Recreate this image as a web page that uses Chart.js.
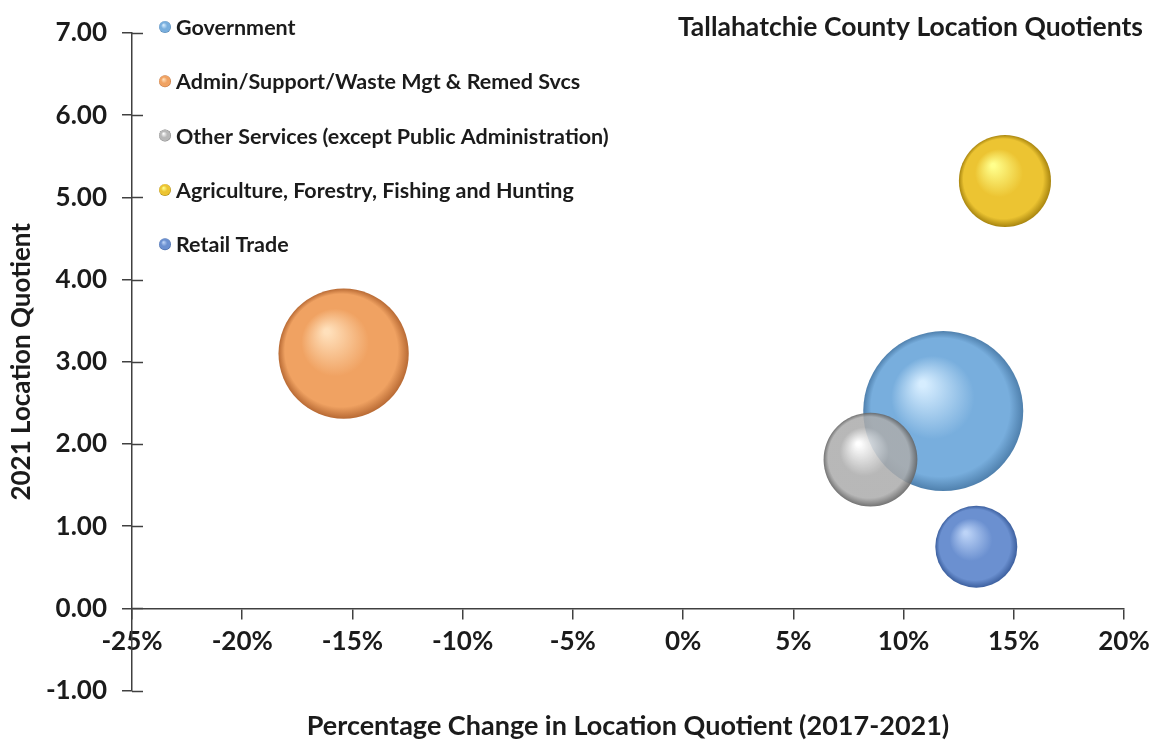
<!DOCTYPE html>
<html>
<head>
<meta charset="utf-8">
<title>Tallahatchie County Location Quotients</title>
<script src="https://cdn.jsdelivr.net/npm/chart.js@4.4.1/dist/chart.umd.min.js"></script>
<style>
    html, body { margin: 0; padding: 0; background: #ffffff; }
    #wrap { width: 1158px; height: 746px; }
</style>
</head>
<body>
<div id="wrap"><canvas id="lqChart" width="1158" height="746"></canvas></div>
<script>
// industries shown as bubbles
var industries = [
    'Government',
    'Admin/Support/Waste Mgt & Remed Svcs',
    'Other Services (except Public Administration)',
    'Agriculture, Forestry, Fishing and Hunting',
    'Retail Trade'
];
// % change in LQ 2017-2021
var lqChange = [11.8, -15.4, 8.5, 14.6, 13.3];
// 2021 location quotient
var lq2021 = [2.40, 3.10, 1.81, 5.20, 0.75];
// bubble size (relative employment)
var bubbleSize = [1600, 1060, 550, 530, 420];

var xTicks = [-25, -20, -15, -10, -5, 0, 5, 10, 15, 20];
var yTicks = [-1, 0, 1, 2, 3, 4, 5, 6, 7];

// highlight, body, edge
var sphereColors = [
    ['#d6edff', '#78aedd', '#4f80ad'],
    ['#ffe0bb', '#f0a262', '#b86a34'],
    ['rgba(255,255,255,0.9)', 'rgba(172,172,172,0.86)', 'rgba(100,100,100,0.9)'],
    ['#ffff8c', '#ecc432', '#a8850f'],
    ['#bcd3f7', '#6b90d0', '#3c5f9e']
];

var fontFamily = 'Lato, "Open Sans", sans-serif';
var textColor = '#1b1b1b';
var axisColor = '#404040';

function sphere(ctx2d, x, y, r, cols) {
    var g = ctx2d.createRadialGradient(x - r * 0.26, y - r * 0.34, r * 0.04, x, y, r);
    g.addColorStop(0, cols[0]);
    g.addColorStop(0.5, cols[1]);
    g.addColorStop(0.86, cols[1]);
    g.addColorStop(1, cols[2]);
    return g;
}

function bubbleFill(i) {
    return function (context) {
        var chart = context.chart;
        if (context.type !== 'data' || !chart.chartArea) {
            return sphereColors[i][1];
        }
        var raw = context.raw;
        var x = chart.scales.x.getPixelForValue(raw.x);
        var y = chart.scales.y.getPixelForValue(raw.y);
        return sphere(chart.ctx, x, y, raw.r, sphereColors[i]);
    };
}

var datasets = [];
for (var i = 0; i < industries.length; i++) {
    datasets.push({
        label: industries[i],
        data: [{ x: lqChange[i], y: lq2021[i], r: Math.sqrt(bubbleSize[i]) * 2 }],
        backgroundColor: bubbleFill(i),
        borderWidth: 0,
        hoverBorderWidth: 0,
        order: i == 2 ? 0 : 1
    });
}

// legend drawn inside the plot, top left
var insideLegend = {
    id: 'insideLegend',
    afterDraw: function (chart) {
        var c = chart.ctx;
        c.save();
        c.font = 'bold 21.5px ' + fontFamily;
        c.textBaseline = 'middle';
        chart.data.datasets.forEach(function (ds, k) {
            var y = 27 + k * 54.3;
            c.beginPath();
            c.fillStyle = sphere(c, 165, y, 6, sphereColors[k]);
            c.arc(165, y, 6, 0, Math.PI * 2);
            c.fill();
            c.fillStyle = textColor;
            c.fillText(ds.label, 176, y + 1);
        });
        c.restore();
    }
};

// chart title (top right) and inner half of the y axis tick marks
var extras = {
    id: 'extras',
    beforeDatasetsDraw: function (chart) {
        var c = chart.ctx;
        var yScale = chart.scales.y;
        var left = chart.chartArea.left;
        c.save();
        c.strokeStyle = axisColor;
        c.lineWidth = 1.5;
        yScale.ticks.forEach(function (t, k) {
            var py = Math.round(yScale.getPixelForTick(k)) + 0.5;
            c.beginPath();
            c.moveTo(left, py);
            c.lineTo(left + 11, py);
            c.stroke();
        });
        c.restore();
    },
    afterDraw: function (chart) {
        var c = chart.ctx;
        c.save();
        c.font = 'bold 26.5px ' + fontFamily;
        c.textAlign = 'right';
        c.textBaseline = 'middle';
        c.fillStyle = textColor;
        c.fillText('Tallahatchie County Location Quotients', 1143, 27);
        c.restore();
    }
};

var lqChart = new Chart(document.getElementById('lqChart'), {
    type: 'bubble',
    data: { datasets: datasets },
    plugins: [extras, insideLegend],
    options: {
        responsive: false,
        animation: false,
        events: [],
        layout: { autoPadding: false, padding: { top: 33, right: 34, bottom: 0, left: 0 } },
        plugins: {
            legend: { display: false },
            tooltip: { enabled: false },
            title: {
                display: true,
                position: 'bottom',
                fullSize: false,
                text: 'Percentage Change in Location Quotient (2017-2021)',
                color: textColor,
                font: { family: fontFamily, size: 27, weight: 'bold' },
                padding: { top: 19, bottom: 4 }
            }
        },
        scales: {
            x: {
                type: 'linear',
                position: { y: 0 },
                min: xTicks[0],
                max: xTicks[xTicks.length - 1],
                afterBuildTicks: function (scale) {
                    scale.ticks = xTicks.map(function (v) { return { value: v }; });
                },
                afterFit: function (scale) {
                    scale.height = 0;
                    scale.paddingLeft = 0;
                    scale.paddingRight = 0;
                    scale.paddingTop = 0;
                    scale.paddingBottom = 0;
                },
                border: { display: true, color: axisColor, width: 1.5 },
                grid: { drawOnChartArea: false, drawTicks: true, tickLength: 10, color: axisColor, lineWidth: 1.5 },
                ticks: {
                    padding: 8,
                    color: textColor,
                    font: { family: fontFamily, size: 26, weight: 'bold' },
                    callback: function (v) { return v + '%'; }
                }
            },
            y: {
                type: 'linear',
                position: 'left',
                min: yTicks[0],
                max: yTicks[yTicks.length - 1],
                afterBuildTicks: function (scale) {
                    scale.ticks = yTicks.map(function (v) { return { value: v }; });
                },
                afterFit: function (scale) { scale.width = 132; },
                border: { display: true, color: axisColor, width: 1.5 },
                grid: { drawOnChartArea: false, drawTicks: true, tickLength: 10, color: axisColor, lineWidth: 1.5 },
                ticks: {
                    padding: 15,
                    color: textColor,
                    font: { family: fontFamily, size: 26, weight: 'bold' },
                    callback: function (v) { return v.toFixed(2); }
                },
                title: {
                    display: true,
                    text: '2021 Location Quotient',
                    color: textColor,
                    font: { family: fontFamily, size: 26, weight: 'bold' },
                    padding: { top: 6, bottom: 0 }
                }
            }
        }
    }
});
</script>
</body>
</html>
